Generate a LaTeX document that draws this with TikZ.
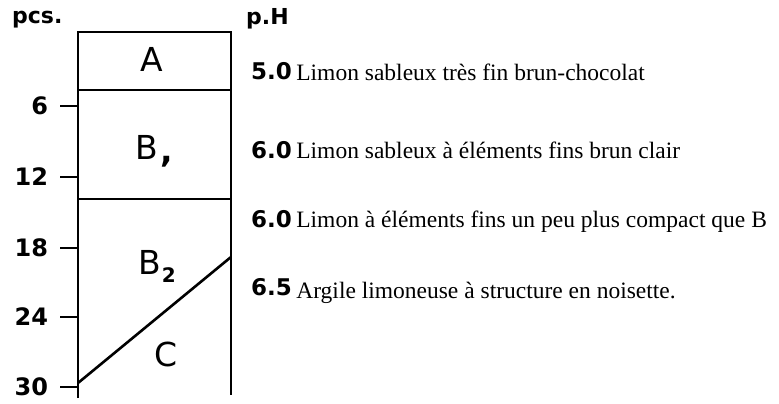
\documentclass[tikz,border=0pt]{standalone}
\usepackage{fontspec}
\setmainfont{Liberation Serif}
\newfontfamily\labelfont{DejaVu Sans}
\usetikzlibrary{positioning}

\begin{document}
\begin{tikzpicture}[
  x=1pt, y=-1pt,
  horizon/.style={font=\labelfont\fontsize{33}{33}\selectfont},
  depth/.style={font=\labelfont\bfseries\fontsize{24}{24}\selectfont, anchor=east},
  phval/.style={font=\labelfont\bfseries\fontsize{23}{23}\selectfont, anchor=base west, inner sep=0pt},
  desc/.style={font=\fontsize{23.5}{23.5}\selectfont, anchor=base west, inner sep=0pt},
  profile/.style={line width=2.6pt},
  tick/.style={line width=2pt}
]
\useasboundingbox (0,0) rectangle (779,404);

% soil column
\coordinate (tl) at (78,32);
\coordinate (tr) at (231,32);
\coordinate (bl) at (78,398);
\coordinate (br) at (231,395);
\draw[profile] (bl) -- (tl) -- (tr) -- (br);
\draw[profile] (78,90) coordinate (ab w) -- (231,90) coordinate (ab e);
\draw[profile] (78,199) coordinate (bb w) -- (231,199) coordinate (bb e);
\draw[profile] (78,383) coordinate (c w) -- (231,257) coordinate (c e);

% horizon names
\node[horizon] (hA) at (152,59) {A};
\node[horizon] (hB1) at (154,151) {B\kern2pt\raisebox{-3pt}{\bfseries,}};
\node[horizon] (hB2) at (157,266) {B\kern1pt\raisebox{-8pt}{\fontsize{20}{20}\selectfont\bfseries 2}};
\node[horizon] (hC) at (166,354) {C};

% depth scale
\node[font=\labelfont\bfseries\fontsize{22}{22}\selectfont, anchor=base west, inner sep=0pt] (pcs) at (12,24) {pcs.};
\foreach \d/\y in {6/106,12/177,18/248,24/317,30/387}{
  \coordinate (t\d) at (78,\y);
  \draw[tick] (t\d) -- ++(-18,0) node[depth, inner sep=11pt] (d\d) {\d};
}

% pH and descriptions
\node[font=\labelfont\bfseries\fontsize{22}{22}\selectfont, anchor=base west, inner sep=0pt] (pH) at (246,25) {p.H};
\node[phval] (ph1) at (251,80) {5.0};
\node[phval] (ph2) at (251,158) {6.0};
\node[phval] (ph3) at (251,227) {6.0};
\node[phval] (ph4) at (251,295) {6.5};
\node[desc, right=4pt of ph1.base east, anchor=base west, yshift=-1pt] (d1) {Limon sableux très fin brun-chocolat};
\node[desc, right=4pt of ph2.base east, anchor=base west] (d2) {Limon sableux à éléments fins brun clair};
\node[desc, right=4pt of ph3.base east, anchor=base west] (d3) {Limon à éléments fins un peu plus compact que B};
\node[desc, right=4pt of ph4.base east, anchor=base west, yshift=-3pt] (d4) {Argile limoneuse à structure en noisette.};
\end{tikzpicture}
\end{document}
